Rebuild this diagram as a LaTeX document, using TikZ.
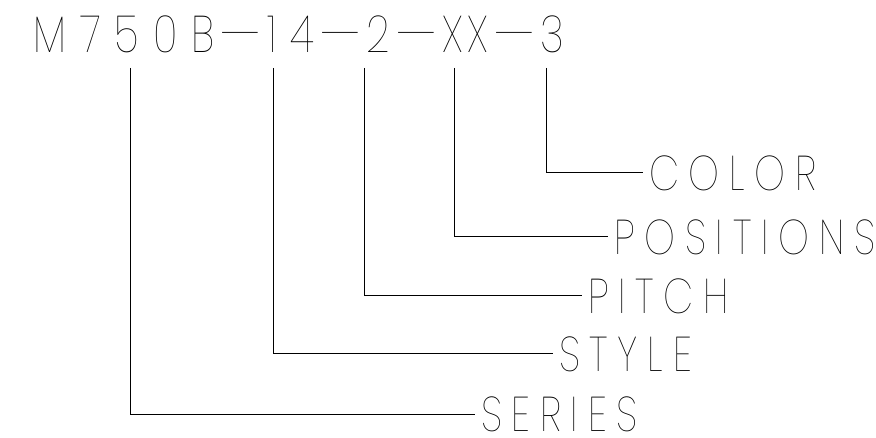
\documentclass[tikz,border=0pt]{standalone}
\usepackage{fontspec}
\newfontfamily\codefont{Poppins Thin}[FakeStretch=0.8,LetterSpace=27]
\newfontfamily\lblfont{Poppins Thin}[FakeStretch=0.8,LetterSpace=20]
\newcommand\cdash{\hspace{6pt}\scalebox{1.26}[1]{—}\hspace{7pt}}
\begin{document}
\begin{tikzpicture}[x=1pt,y=-1pt,
  lead/.style={line width=1pt},
  codetext/.style={font=\codefont\fontsize{51.6}{54}\selectfont, inner sep=0pt, anchor=base west},
  lbl/.style={font=\lblfont\fontsize{48.8}{50}\selectfont, anchor=west, inner xsep=6pt, inner ysep=0pt}]
\useasboundingbox (0,0) rectangle (876,438);
\node[codetext] (code) at (33,53) {M750B\cdash14\cdash2\cdash X\kern4pt X\cdash3};
\coordinate (tser) at (130,68);
\coordinate (tsty) at (273,68);
\coordinate (tpit) at (364,68);
\coordinate (tpos) at (454,68);
\coordinate (tcol) at (546,68);
\node[lbl] (ser) at (475,414) {SERIES};
\node[lbl] (sty) at (553,354) {STYLE};
\node[lbl] (pit) at (582,296) {PITCH};
\node[lbl] (pos) at (608,237) {POSITIONS};
\node[lbl] (col) at (643,173) {COLOR};
\draw[lead] (tser) |- (ser.west);
\draw[lead] (tsty) |- (sty.west);
\draw[lead] (tpit) |- (pit.west);
\draw[lead] (tpos) |- (pos.west);
\draw[lead] (tcol) |- (col.west);
\end{tikzpicture}
\end{document}
